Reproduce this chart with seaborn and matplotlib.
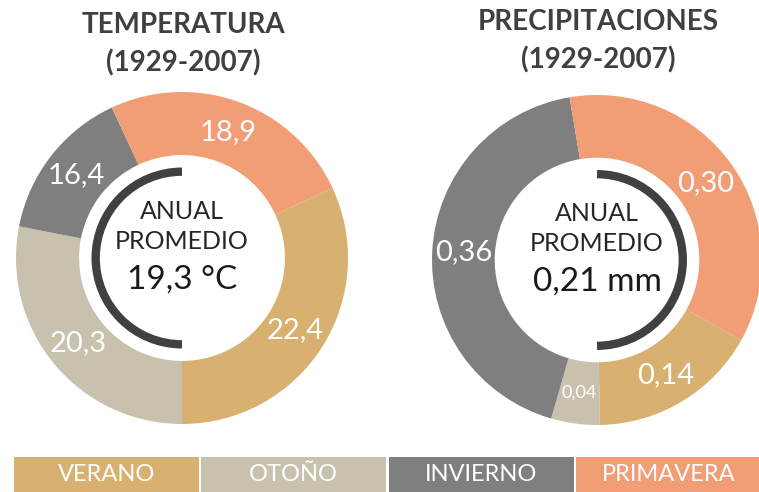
"""
Temperatura y precipitaciones medias por estación (1929-2007),
dos gráficos de dona con leyenda de estaciones abajo.
"""

import numpy as np
import matplotlib
matplotlib.use("Agg")
import matplotlib.pyplot as plt
from matplotlib.patches import Arc
import seaborn as sns


ESTACIONES = ["VERANO", "OTOÑO", "INVIERNO", "PRIMAVERA"]
COLORES = ["#D8B171", "#C7C1AE", "#7F7F7F", "#F19D76"]

# Temperatura media por estación (°C). El tamaño de cada sector en el
# original no es proporcional a la etiqueta, así que se lee aparte (grados).
temp_valores = [22.4, 20.3, 16.4, 18.9]
temp_sectores = [115, 101, 54, 90]
temp_promedio = "19,3 °C"

# Precipitación media por estación (mm), sectores proporcionales
prec_valores = [0.14, 0.04, 0.36, 0.30]
prec_promedio = "0,21 mm"

TITULOS = ["TEMPERATURA\n(1929-2007)", "PRECIPITACIONES\n(1929-2007)"]

sns.set_theme(style="white")
plt.rcParams["font.family"] = ["Lato", "DejaVu Sans"]

ANCHO, ALTO = 759, 492
fig = plt.figure(figsize=(ANCHO / 100, ALTO / 100), dpi=100)


def ejes_dona(cx, cy, r):
    """Crea unos ejes cuadrados centrados en (cx, cy) px con radio r px."""
    return fig.add_axes([(cx - r) / ANCHO, (ALTO - cy - r) / ALTO, 2 * r / ANCHO, 2 * r / ALTO])


def dona(ax, sectores, etiquetas, tam_etiquetas, inicio, arco_izq, promedio):
    cunas, _ = ax.pie(
        sectores,
        colors=COLORES,
        startangle=inicio,
        counterclock=False,
        radius=1,
        wedgeprops=dict(width=0.38, linewidth=0),
    )
    for cuna, texto, tam in zip(cunas, etiquetas, tam_etiquetas):
        ang = np.deg2rad((cuna.theta1 + cuna.theta2) / 2)
        ax.text(0.81 * np.cos(ang), 0.81 * np.sin(ang), texto,
                ha="center", va="center", color="white", fontsize=tam)

    # medio arco oscuro dentro del hueco
    t1, t2 = (90, 270) if arco_izq else (-90, 90)
    ax.add_patch(Arc((0, 0), 1.04, 1.04, theta1=t1, theta2=t2, color="#404040", lw=6))

    ax.text(0, 0.28, "ANUAL", ha="center", va="center", fontsize=18, color="#262626")
    ax.text(0, 0.10, "PROMEDIO", ha="center", va="center", fontsize=18, color="#262626")
    ax.text(0, -0.13, promedio, ha="center", va="center", fontsize=24, color="#1a1a1a")

    ax.set_xlim(-1, 1)
    ax.set_ylim(-1, 1)
    ax.set_aspect("equal")
    ax.axis("off")


ax_t = ejes_dona(182, 258, 166)
dona(ax_t, temp_sectores,
     [f"{v:.1f}".replace(".", ",") for v in temp_valores],
     [21, 21, 21, 21], inicio=25, arco_izq=True, promedio=temp_promedio)

ax_p = ejes_dona(597, 260, 165)
dona(ax_p, prec_valores,
     [f"{v:.2f}".replace(".", ",") for v in prec_valores],
     [21, 13, 21, 21], inicio=-29, arco_izq=False, promedio=prec_promedio)

# títulos
fig.text(183 / ANCHO, 1 - 44 / ALTO, TITULOS[0], ha="center", va="center",
         fontsize=20, fontweight="bold", color="#404040", linespacing=1.5)
fig.text(598 / ANCHO, 1 - 41 / ALTO, TITULOS[1], ha="center", va="center",
         fontsize=20, fontweight="bold", color="#404040", linespacing=1.5)

# leyenda como franja de cajas de color
ax_l = fig.add_axes([13 / ANCHO, 0, 749 / ANCHO, 35 / ALTO])
pos = np.arange(len(ESTACIONES))
ax_l.bar(pos, 1, width=0.987, color=COLORES, linewidth=0)
for x, nombre in zip(pos, ESTACIONES):
    ax_l.text(x, 0.5, nombre, ha="center", va="center", color="white", fontsize=17)
ax_l.set_xlim(-0.5, len(ESTACIONES) - 0.5)
ax_l.set_ylim(0, 1)
ax_l.axis("off")

fig.savefig("out.png", dpi=100)
